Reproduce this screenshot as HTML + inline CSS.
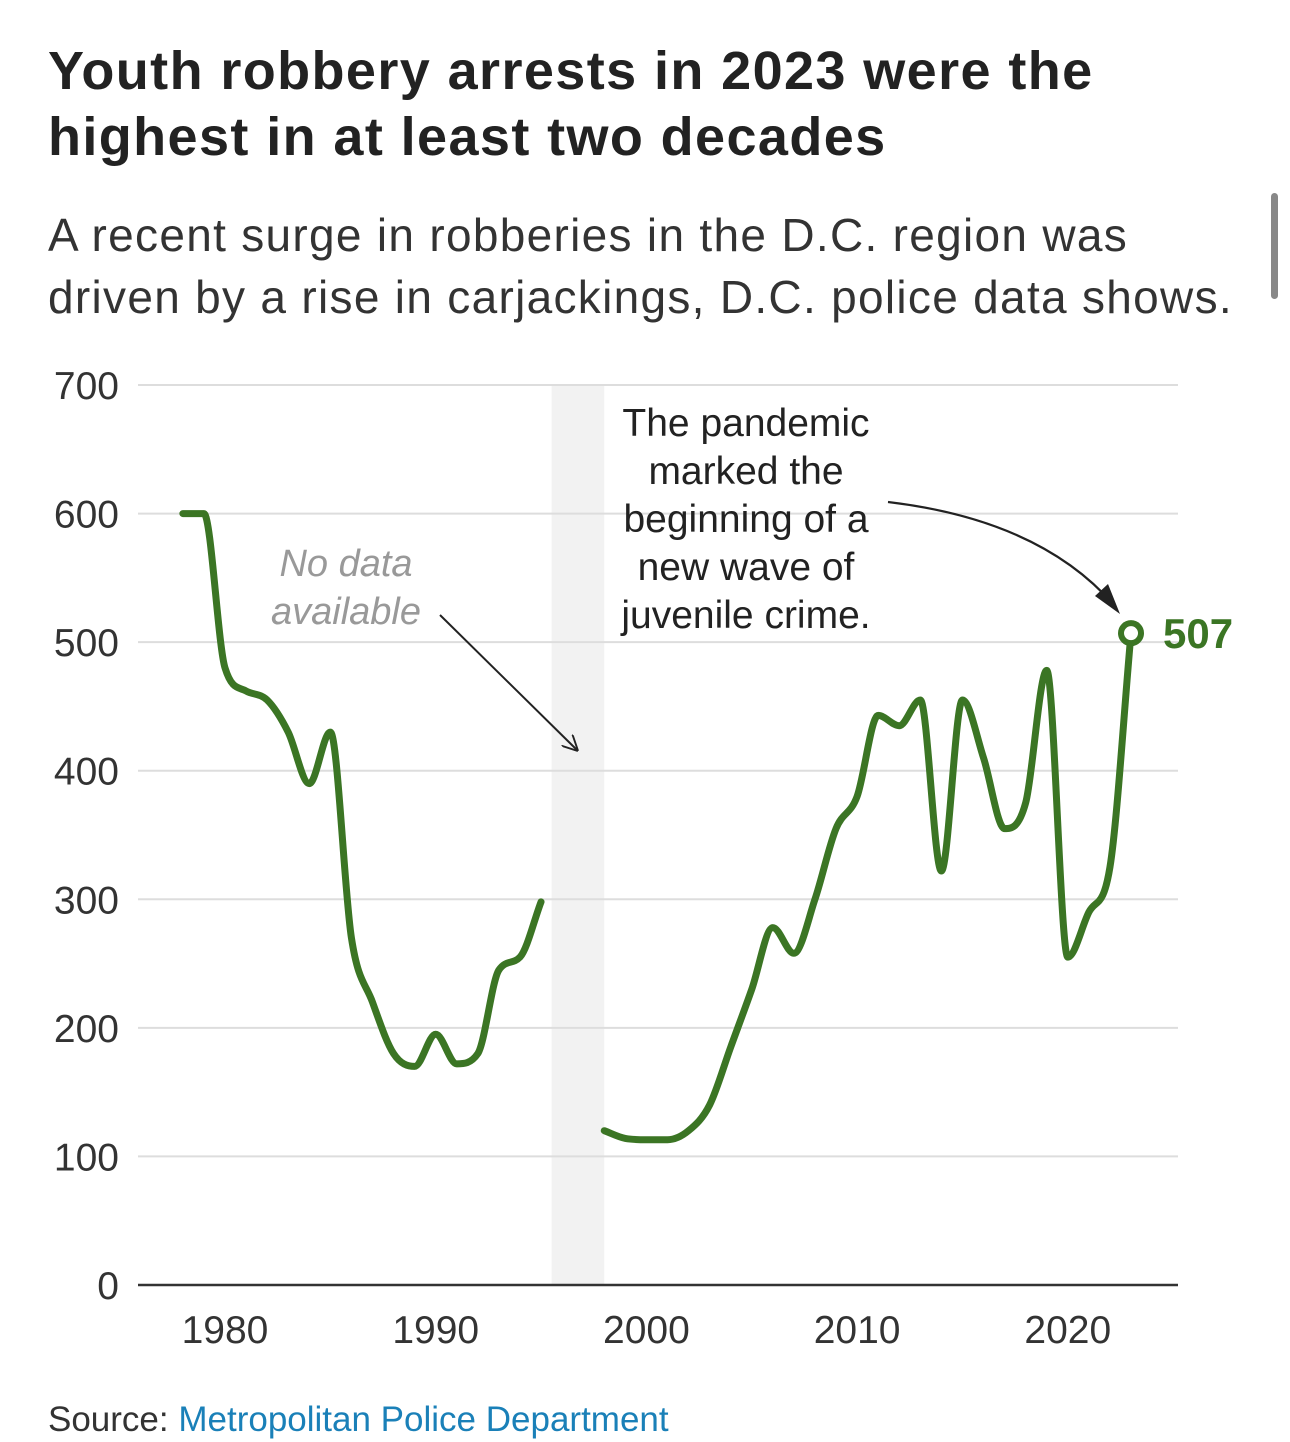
<!DOCTYPE html>
<html><head><meta charset="utf-8"><style>
body{margin:0;background:#fff;width:1290px;height:1442px;overflow:hidden;font-family:"Liberation Sans",sans-serif;position:relative}
.t{position:absolute;left:48px;top:38px;font-size:54px;font-weight:bold;line-height:66px;color:#222;letter-spacing:1.4px}
.s{position:absolute;left:48px;top:204px;font-size:46px;line-height:62px;color:#333;letter-spacing:1.3px}
.src{position:absolute;left:48px;top:1400px;font-size:35px;color:#333}
.src span{color:#1a80b8}
.sb{position:absolute;left:1271px;top:193px;width:7px;height:106px;border-radius:4px;background:#888}
</style></head><body>
<div class="t">Youth robbery arrests in 2023 were the<br>highest in at least two decades</div>
<div class="s">A recent surge in robberies in the D.C. region was<br>driven by a rise in carjackings, D.C. police data shows.</div>
<div class="sb"></div>
<svg id="c" width="1290" height="1442" style="position:absolute;left:0;top:0"></svg>
<div class="src">Source: <span>Metropolitan Police Department</span></div>
<script>
const years1=[1978,1979,1980,1981,1982,1983,1984,1985,1986,1987,1988,1989,1990,1991,1992,1993,1994,1995];
const vals1=[600,600,480,462,455,430,390,430,270,220,180,170,195,172,180,245,255,298];
const years2=[1998,1999,2000,2001,2002,2003,2004,2005,2006,2007,2008,2009,2010,2011,2012,2013,2014,2015,2016,2017,2018,2019,2020,2021,2022,2023];
const vals2=[120,114,113,113,120,140,185,230,278,258,300,355,380,443,435,455,322,455,410,355,375,478,255,290,325,507];
const yTicks=[0,100,200,300,400,500,600,700];
const xTicks=[1980,1990,2000,2010,2020];
const gapBand=[1995.5,1998];
const NS="http://www.w3.org/2000/svg";
const svg=document.getElementById('c');
const x=v=>225+(v-1980)*21.07;
const y=v=>1285-v*900/700;
function mk(t,a){const e=document.createElementNS(NS,t);for(const k in a)e.setAttribute(k,a[k]);svg.appendChild(e);return e;}
let b=mk('rect',{x:x(gapBand[0]),y:385,width:x(gapBand[1])-x(gapBand[0]),height:900,fill:'#f2f2f2'});


yTicks.forEach(v=>{
 if(v>0){const l=mk('line',{x1:138,x2:1178,y1:y(v),y2:y(v),stroke:'#ddd','stroke-width':2});
 
 }
 const t=mk('text',{x:119,y:y(v)+14,'text-anchor':'end','font-size':39,fill:'#333'});t.textContent=v;
 
 
});
let ax=mk('line',{x1:138,x2:1178,y1:1285,y2:1285,stroke:'#333','stroke-width':2.5});


xTicks.forEach(v=>{const t=mk('text',{x:x(v),y:1343,'text-anchor':'middle','font-size':39,fill:'#333'});t.textContent=v;
 
 });
function path(xs,vs){
 const p=xs.map((a,i)=>[x(a),y(vs[i])]);const n=p.length;
 const d=[],m=[];
 for(let i=0;i<n-1;i++)d.push((p[i+1][1]-p[i][1])/(p[i+1][0]-p[i][0]));
 for(let i=0;i<n;i++){
  if(i==0)m.push(d[0]);else if(i==n-1)m.push(d[n-2]);
  else m.push(d[i-1]*d[i]<=0?0:(d[i-1]+d[i])/2);
 }
 for(let i=0;i<n-1;i++){if(d[i]==0){m[i]=0;m[i+1]=0;continue;}
  const a=m[i]/d[i],bb=m[i+1]/d[i],s=a*a+bb*bb;if(s>9){const t=3/Math.sqrt(s);m[i]=t*a*d[i];m[i+1]=t*bb*d[i];}}
 let s='M'+p[0];
 for(let i=0;i<n-1;i++){const h=(p[i+1][0]-p[i][0])/3;
  s+=`C${p[i][0]+h},${p[i][1]+m[i]*h} ${p[i+1][0]-h},${p[i+1][1]-m[i+1]*h} ${p[i+1][0]},${p[i+1][1]}`;}
 return s;}
[[years1,vals1],[years2,vals2]].forEach((s,i)=>{const l=mk('path',{d:path(s[0],s[1]),fill:'none',stroke:'#3b7524','stroke-width':7,'stroke-linecap':'round','stroke-linejoin':'round'});
 
 });
const lx=x(years2[years2.length-1]),ly=y(vals2[vals2.length-1]);
let c=mk('circle',{cx:lx,cy:ly,r:10,fill:'#fff',stroke:'#3b7524','stroke-width':6});


let lt=mk('text',{x:lx+32,y:ly+15,'font-size':42,'font-weight':'bold',fill:'#3b7524'});lt.textContent=vals2[vals2.length-1];


mk('defs',{}).innerHTML='<marker id="ah" viewBox="0 0 10 10" refX="9" refY="5" markerWidth="13" markerHeight="13" markerUnits="userSpaceOnUse" orient="auto"><path d="M0,0L10,5L0,10z" fill="#222"/></marker><marker id="ah2" viewBox="0 0 10 10" refX="9" refY="5" markerWidth="16" markerHeight="16" markerUnits="userSpaceOnUse" orient="auto"><path d="M0,0L10,5M0,10L10,5" stroke="#222" stroke-width="1.2" fill="none"/></marker>';
let a1=mk('path',{d:'M440,615 L577,750',stroke:'#222','stroke-width':2,fill:'none','marker-end':'url(#ah2)'});


let a2=mk('path',{d:'M888,502 Q1040,520 1114,605',stroke:'#222','stroke-width':2.2,fill:'none'});


let ah=mk('path',{d:'M1120,614 L1095,596 L1108,584 Z',fill:'#222'});


let n=mk('text',{'font-size':38,'font-style':'italic',fill:'#999','text-anchor':'middle'});
n.innerHTML='<tspan x="346" y="576">No data</tspan><tspan x="346" y="624">available</tspan>';


let p=mk('text',{'font-size':39,fill:'#222','text-anchor':'middle'});
p.innerHTML=['The pandemic','marked the','beginning of a','new wave of','juvenile crime.'].map((s,i)=>`<tspan x="746" y="${436+i*48}">${s}</tspan>`).join('');


</script>
</body></html>
